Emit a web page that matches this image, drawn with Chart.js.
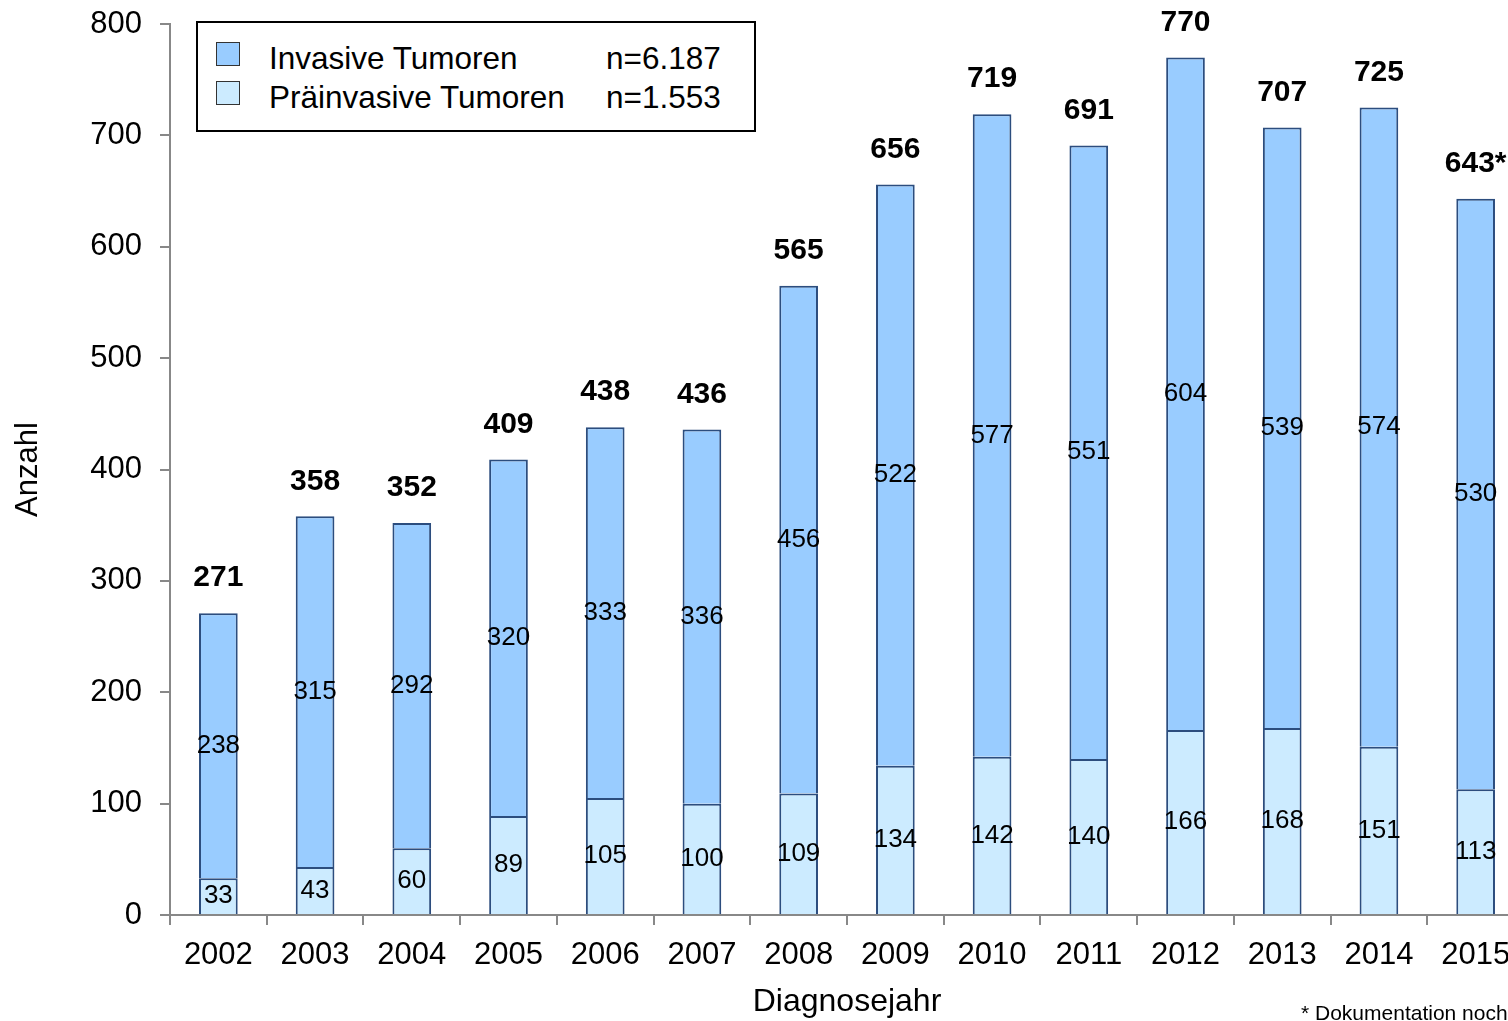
<!DOCTYPE html>
<html>
<head>
<meta charset="utf-8">
<script src="https://cdn.jsdelivr.net/npm/chart.js@4/dist/chart.umd.min.js"></script>
<style>
  html, body { margin: 0; padding: 0; background: #fff; overflow: hidden; width: 1508px; height: 1021px; }
  #wrap { position: absolute; left: 0; top: 0; width: 1530px; height: 1021px; }
  #legend {
    position: absolute; left: 196px; top: 21px; width: 560px; height: 111px;
    box-sizing: border-box; border: 2px solid #000; background: #fff;
    font-family: "Liberation Sans", Arial, sans-serif; font-size: 31.5px; color: #000;
  }
  .row { position: absolute; left: 0; height: 36px; line-height: 36px; white-space: nowrap; }
  .sw { position: absolute; left: 18px; top: 2px; width: 24px; height: 24px; border: 1.5px solid #333; box-sizing: border-box; }
  .lbl { position: absolute; left: 71px; }
  .n { position: absolute; left: 408px; }
  #note {
    position: absolute; left: 1301px; top: 1001px; line-height: 24px; white-space: nowrap;
    font-family: "Liberation Sans", Arial, sans-serif; font-size: 21px; color: #000;
  }
</style>
</head>
<body>
<div id="wrap"><canvas id="bargraph"></canvas></div>
<div id="legend"></div>
<div id="note">* Dokumentation noch</div>
<script>
const years = ["2002","2003","2004","2005","2006","2007","2008","2009","2010","2011","2012","2013","2014","2015"];
const praeinvasiv = [33, 43, 60, 89, 105, 100, 109, 134, 142, 140, 166, 168, 151, 113];
const invasiv = [238, 315, 292, 320, 333, 336, 456, 522, 577, 551, 604, 539, 574, 530];
const totalMarks = ["","","","","","","","","","","","","","*"];
const seriesNames = ["Invasive Tumoren", "Präinvasive Tumoren"];
const seriesCounts = ["n=6.187", "n=1.553"];
const seriesColors = ["#99CCFF", "#CCEBFF"];
const yTicks = [0, 100, 200, 300, 400, 500, 600, 700, 800];

const fontFam = '"Liberation Sans", Arial, sans-serif';
const edge = '#2C4D7E';

// legend box (invasive first, like the original)
const legendEl = document.getElementById('legend');
seriesNames.forEach((name, i) => {
    const row = document.createElement('div');
    row.className = 'row';
    row.style.top = (17 + i * 39) + 'px';
    row.style.width = '100%';
    row.innerHTML = '<span class="sw" style="background:' + seriesColors[i] + '"></span>' +
        '<span class="lbl">' + name + '</span><span class="n">' + seriesCounts[i] + '</span>';
    legendEl.appendChild(row);
});

const valueLabels = {
    id: 'valueLabels',
    afterDatasetsDraw(chart) {
        const ctx = chart.ctx;
        ctx.save();
        ctx.fillStyle = '#000';
        ctx.textAlign = 'center';
        ctx.textBaseline = 'middle';
        ctx.font = '26px ' + fontFam;
        chart.data.datasets.forEach((ds, di) => {
            chart.getDatasetMeta(di).data.forEach((bar, i) => {
                ctx.fillText(String(ds.data[i]), bar.x, (bar.y + bar.base) / 2);
            });
        });
        // totals on top
        const topMeta = chart.getDatasetMeta(1);
        ctx.font = 'bold 30px ' + fontFam;
        topMeta.data.forEach((bar, i) => {
            const total = praeinvasiv[i] + invasiv[i];
            ctx.fillText(total + totalMarks[i], bar.x, bar.y - 35);
        });
        ctx.restore();
    }
};

new Chart(document.getElementById('bargraph'), {
    type: 'bar',
    data: {
        labels: years,
        datasets: [{
            label: seriesNames[1],
            data: praeinvasiv,
            backgroundColor: seriesColors[1],
            borderColor: edge,
            borderWidth: 2,
            barPercentage: 0.5,
            categoryPercentage: 0.8
        }, {
            label: seriesNames[0],
            data: invasiv,
            backgroundColor: seriesColors[0],
            borderColor: edge,
            borderWidth: 2,
            barPercentage: 0.5,
            categoryPercentage: 0.8
        }]
    },
    options: {
        responsive: true,
        maintainAspectRatio: false,
        animation: false,
        layout: { padding: { top: 24, right: 6, left: 0, bottom: 0 } },
        plugins: {
            legend: { display: false },
            tooltip: { enabled: false }
        },
        scales: {
            x: {
                stacked: true,
                grid: { display: true, drawOnChartArea: false, drawTicks: true, tickLength: 10, color: '#888', lineWidth: 2 },
                border: { display: true, color: '#888', width: 2 },
                ticks: { color: '#000', font: { family: fontFam, size: 31 }, padding: 12, maxRotation: 0, autoSkip: false },
                title: { display: true, text: 'Diagnosejahr', color: '#000', font: { family: fontFam, size: 32 }, padding: { top: 0, bottom: 0 } },
                afterFit: s => { s.height = 106; s.paddingLeft = 0; s.paddingRight = 0; }
            },
            y: {
                stacked: true,
                min: 0,
                max: 800,
                afterBuildTicks: s => { s.ticks = yTicks.map(v => ({ value: v })); },
                grid: { display: true, drawOnChartArea: false, drawTicks: true, tickLength: 10, color: '#888', lineWidth: 2 },
                border: { display: true, color: '#888', width: 2 },
                ticks: { color: '#000', font: { family: fontFam, size: 31 }, padding: 18 },
                title: { display: true, text: 'Anzahl', color: '#000', font: { family: fontFam, size: 31 }, padding: { top: 10, bottom: 0 } },
                afterFit: s => { s.width = 170; s.paddingTop = 0; s.paddingBottom = 0; }
            }
        }
    },
    plugins: [valueLabels]
});
</script>
</body>
</html>
